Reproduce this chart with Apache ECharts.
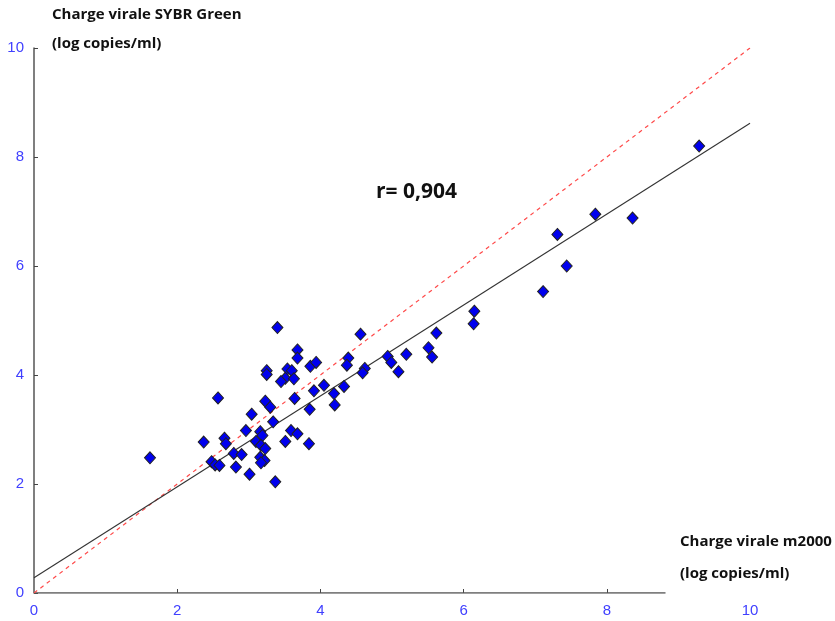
<!DOCTYPE html>
<html><head><meta charset="utf-8">
<script src="https://cdn.jsdelivr.net/npm/echarts@6/dist/echarts.min.js"></script>
<style>html,body{margin:0;padding:0;background:#fff}#c{width:835px;height:621px}</style>
</head><body><div id="c"></div>
<script>
// m2000 (x) values, log copies/ml
const m2000 = [3.40,3.68,3.68,3.86,3.94,3.25,3.25,3.54,3.60,3.51,3.45,3.63,4.39,4.37,4.33,4.05,3.91,4.19,4.20,3.85,3.64,2.57,3.23,3.30,3.04,3.34,2.96,3.16,3.19,3.59,3.68,3.51,3.84,3.10,3.17,3.23,2.66,2.68,2.37,2.79,2.90,3.16,3.22,3.17,2.48,2.53,2.59,2.82,3.01,3.37,1.62,
  4.56,4.62,4.59,4.94,4.99,5.20,5.09,5.51,5.56,5.62,6.15,6.14,
  9.29,7.84,8.36,7.31,7.44,7.11];
// SYBR Green (y) values, log copies/ml
const sybr = [4.87,4.46,4.31,4.16,4.23,4.08,4.01,4.11,4.08,3.94,3.88,3.93,4.31,4.18,3.79,3.81,3.71,3.66,3.45,3.37,3.57,3.58,3.52,3.41,3.28,3.14,2.98,2.96,2.89,2.98,2.92,2.78,2.74,2.78,2.71,2.65,2.84,2.74,2.77,2.56,2.54,2.49,2.43,2.39,2.41,2.35,2.34,2.31,2.18,2.04,2.48,
  4.75,4.12,4.04,4.34,4.23,4.38,4.06,4.50,4.33,4.77,5.17,4.94,
  8.20,6.95,6.88,6.58,6.00,5.53];
// regression line endpoints (x, y)
const regX = [0, 10];
const regY = [0.28, 8.62];
// identity line
const idX = [0, 10];
const idY = [0, 10];
// visible extent of x axis line
const xAxisLineX = [0, 8.82];
const xAxisLineY = [0, 0];
const tickVals = [0, 2, 4, 6, 8, 10];
const rText = 'r= 0,904';
const yTitle = ['Charge virale SYBR Green', '(log copies/ml)'];
const xTitle = ['Charge virale m2000', '(log copies/ml)'];

const pts = m2000.map((x, i) => [x, sybr[i]]);
const chart = echarts.init(document.getElementById('c'), null, {renderer: 'canvas'});
const labelStyle = {color: '#4040ff', fontSize: 15, fontFamily: 'Liberation Sans'};
chart.setOption({
  animation: false,
  backgroundColor: '#fff',
  grid: {left: 34, right: 85, top: 48, bottom: 28, containLabel: false},
  xAxis: {
    type: 'value', min: 0, max: 10, interval: 2,
    axisLine: {show: false},
    axisTick: {show: true, inside: true, length: 4, lineStyle: {color: '#444'}, customValues: [2, 4, 6, 8]},
    splitLine: {show: false},
    axisLabel: Object.assign({margin: 10, customValues: tickVals}, labelStyle)
  },
  yAxis: {
    type: 'value', min: 0, max: 10, interval: 2,
    axisLine: {show: true, lineStyle: {color: '#555', width: 1.5}},
    axisTick: {show: true, inside: true, length: 4, lineStyle: {color: '#444'}},
    splitLine: {show: false},
    axisLabel: Object.assign({margin: 10}, labelStyle)
  },
  series: [
    {type: 'line', data: xAxisLineX.map((x, i) => [x, xAxisLineY[i]]), symbol: 'none',
     lineStyle: {color: '#555', width: 1.5}, z: 1, silent: true},
    {type: 'line', data: idX.map((x, i) => [x, idY[i]]), symbol: 'none',
     lineStyle: {color: '#ff4a4a', width: 1.2, type: [4, 4]}, z: 2},
    {type: 'line', data: regX.map((x, i) => [x, regY[i]]), symbol: 'none',
     lineStyle: {color: '#333', width: 1.1}, z: 3},
    {type: 'scatter', data: pts, symbol: 'diamond', symbolSize: [11, 12],
     itemStyle: {color: '#0000ee', borderColor: '#222', borderWidth: 1, opacity: 1}, z: 4}
  ],
  graphic: [
    {type: 'text', left: 52, top: 7, style: {text: yTitle[0], font: 'bold 15px "Open Sans"', fill: '#111'}},
    {type: 'text', left: 52, top: 36, style: {text: yTitle[1], font: 'bold 15px "Open Sans"', fill: '#111'}},
    {type: 'text', left: 680, top: 534, style: {text: xTitle[0], font: 'bold 15px "Open Sans"', fill: '#111'}},
    {type: 'text', left: 680, top: 566, style: {text: xTitle[1], font: 'bold 15px "Open Sans"', fill: '#111'}},
    {type: 'text', left: 376, top: 182, style: {text: rText, font: 'bold 21px "Open Sans"', fill: '#111'}}
  ]
});
</script></body></html>
